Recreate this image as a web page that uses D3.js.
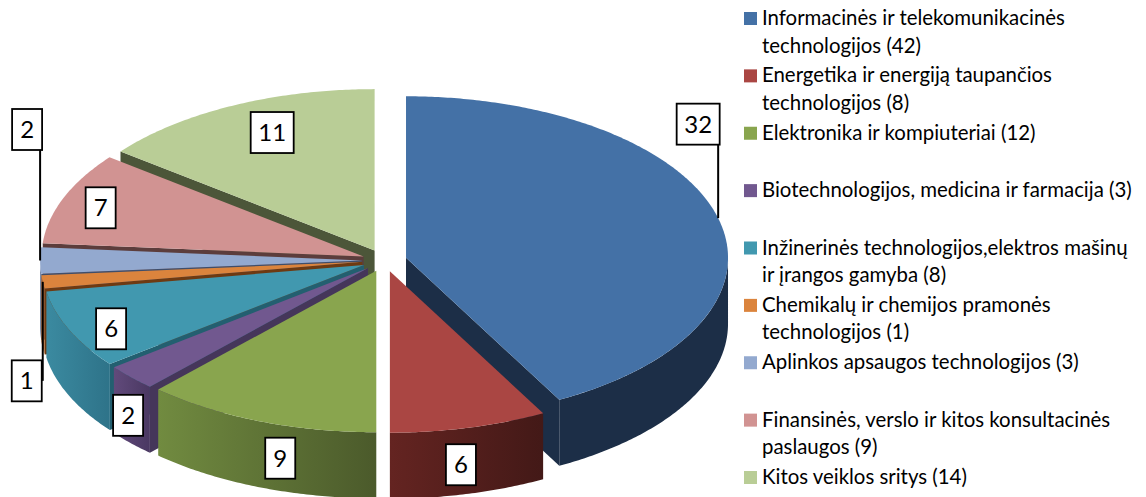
<!DOCTYPE html>
<html>
<head>
<meta charset="utf-8">
<script src="https://cdn.jsdelivr.net/npm/d3@7"></script>
<style>
  html, body { margin: 0; padding: 0; background: #fff; }
  svg { display: block; }
  text { font-family: Lato, "Open Sans", sans-serif; fill: #000; }
</style>
</head>
<body>
<svg id="chart" width="1146" height="497"></svg>
<script>
// values on the slices
const sliceValues = [32, 6, 9, 2, 6, 1, 2, 7, 11];
// legend text, | is a line break, count goes after the last line
const categories = [
  "Informacinės ir telekomunikacinės|technologijos",
  "Energetika ir energiją taupančios|technologijos",
  "Elektronika ir kompiuteriai",
  "Biotechnologijos, medicina ir farmacija",
  "Inžinerinės technologijos,elektros mašinų|ir įrangos gamyba",
  "Chemikalų ir chemijos pramonės|technologijos",
  "Aplinkos apsaugos technologijos",
  "Finansinės, verslo ir kitos konsultacinės|paslaugos",
  "Kitos veiklos sritys"
];
const legendCounts = [42, 8, 12, 3, 8, 1, 3, 9, 14];

const topColors = ["#4471a6", "#aa4643", "#89a54e", "#71588f", "#4198af", "#db843d", "#93a9cf", "#d19392", "#b9cd96"];
// cut faces of the exploded slices
const cutColors = ["#1c2e47", "#431917", "#4b5a2b", "#45365a", "#235f70", "#6e3a12", "#3f4e6b", "#5c3d3c", "#4c5639"];
// outer rim gradient, left and right
const rimLeft = ["#1c2e47", "#642421", "#718b40", "#614a7b", "#3b8aa0", "#b56a2e", "#6f80a0", "#5c3d3c", "#4c5639"];
const rimRight = ["#1c2e47", "#431917", "#4b5a2b", "#4a3862", "#2e7389", "#a65a1f", "#6f80a0", "#5c3d3c", "#4c5639"];

// box offsets from the point on the rim at the slice's mid angle
const labelDx = [-20, -8, 21, -3, 42, -16, -13, 37, 39];
const labelDy = [-94, 37, 37, 38, -1, 99, -131, 10, 27];
const hasLeader = [true, false, false, false, false, true, true, false, false];

const rx = 322, ry = 161.5, depth = 66;
const cx0 = 384.4, cy0 = 260.5, explodeX = 22.3, explodeY = 11;
const TAU = Math.PI * 2;

const svg = d3.select("#chart");
const defs = svg.append("defs");
const color = d3.scaleOrdinal().domain(d3.range(categories.length)).range(topColors);

const arcs = d3.pie().sort(null)(sliceValues).map((d, i) => {
  const mid = (d.startAngle + d.endAngle) / 2;
  return {
    i, value: d.value, a0: d.startAngle, a1: d.endAngle, mid,
    cx: cx0 + explodeX * Math.sin(mid),
    cy: cy0 - explodeY * Math.cos(mid)
  };
});

const line = d3.line();
const rimPt = (s, a, dz = 0) => [s.cx + rx * Math.sin(a), s.cy - ry * Math.cos(a) + dz];

function rimPts(s, a0, a1, dz = 0) {
  const n = Math.max(2, Math.ceil((a1 - a0) / 0.01));
  return d3.range(n + 1).map(k => rimPt(s, a0 + (a1 - a0) * k / n, dz));
}

function cutFace(s, a) {
  return line([[s.cx, s.cy], rimPt(s, a), rimPt(s, a, depth), [s.cx, s.cy + depth]]) + "Z";
}

// back to front
const drawOrder = [0, 1, 8, 7, 6, 5, 4, 3, 2];

drawOrder.forEach(idx => {
  const s = arcs[idx];
  const g = svg.append("g");

  if (s.a1 > 0 && s.a1 < Math.PI) {
    g.append("path").attr("d", cutFace(s, s.a1)).attr("fill", cutColors[idx]);
  }
  if (s.a0 > Math.PI && s.a0 < TAU) {
    g.append("path").attr("d", cutFace(s, s.a0)).attr("fill", cutColors[idx]);
  }

  // outer wall is only seen on the front half
  const w0 = Math.max(s.a0, Math.PI / 2), w1 = Math.min(s.a1, Math.PI * 1.5);
  if (w1 > w0) {
    const grad = defs.append("linearGradient").attr("id", "rim" + idx);
    grad.append("stop").attr("offset", 0).attr("stop-color", rimLeft[idx]);
    grad.append("stop").attr("offset", 1).attr("stop-color", rimRight[idx]);
    const wall = rimPts(s, w0, w1).concat(rimPts(s, w0, w1, depth).reverse());
    g.append("path").attr("d", line(wall) + "Z").attr("fill", `url(#rim${idx})`);
  }

  const top = [[s.cx, s.cy]].concat(rimPts(s, s.a0, s.a1));
  g.append("path").attr("d", line(top) + "Z").attr("fill", color(idx));
});

// data labels
const labels = svg.append("g");
arcs.forEach(s => {
  const p = rimPt(s, s.mid);
  const bx = p[0] + labelDx[s.i], by = p[1] + labelDy[s.i];
  const txt = String(s.value);
  const w = 17 + 13 * txt.length, h = 41;

  if (hasLeader[s.i]) {
    labels.append("line")
      .attr("x1", p[0]).attr("x2", p[0])
      .attr("y1", p[1]).attr("y2", by)
      .attr("stroke", "#000").attr("stroke-width", 2);
  }
  labels.append("rect")
    .attr("x", bx - w / 2).attr("y", by - h / 2)
    .attr("width", w).attr("height", h)
    .attr("fill", "#fff").attr("stroke", "#000").attr("stroke-width", 1.8);
  labels.append("text")
    .attr("x", bx).attr("y", by + 8.5)
    .attr("text-anchor", "middle")
    .attr("font-size", 24)
    .text(txt);
});

// legend
const legendY = d3.scalePoint().domain(d3.range(categories.length)).range([18.5, 477.5]);
const legend = svg.append("g").selectAll("g")
  .data(categories)
  .enter()
  .append("g")
  .attr("transform", (d, i) => `translate(744,${legendY(i)})`);

legend.append("rect")
  .attr("x", 0).attr("y", -6.5)
  .attr("width", 13).attr("height", 13)
  .attr("fill", (d, i) => color(i));

legend.each(function (d, i) {
  const parts = d.split("|");
  parts[parts.length - 1] += ` (${legendCounts[i]})`;
  const t = d3.select(this).append("text").attr("font-size", 20.4);
  parts.forEach((part, k) => {
    t.append("tspan").attr("x", 18).attr("y", 6.5 + k * 27.5).text(part);
  });
});
</script>
</body>
</html>
